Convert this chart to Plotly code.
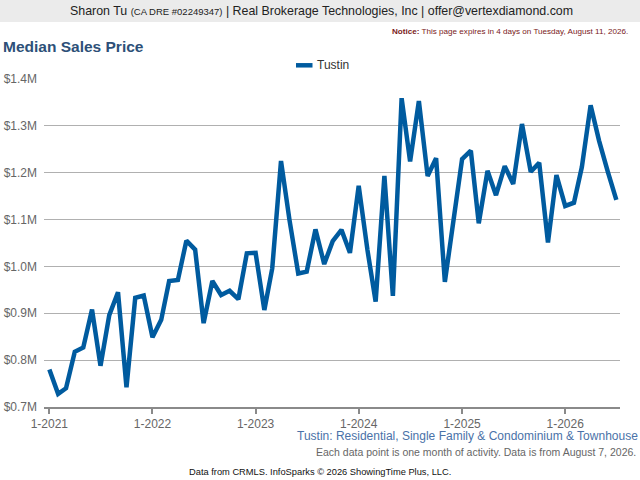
import plotly.graph_objects as go

months = []
for yr in range(2021, 2027):
    for m in range(1, 13):
        if yr == 2026 and m > 7:
            break
        months.append(f"{yr}-{m:02d}-01")

price_m = [
    0.780, 0.728, 0.740, 0.818, 0.827, 0.908, 0.788, 0.896, 0.945, 0.742, 0.933, 0.938,
    0.849, 0.886, 0.969, 0.971, 1.055, 1.036, 0.879, 0.969, 0.939, 0.948, 0.930, 1.028,
    1.029, 0.907, 0.996, 1.225, 1.099, 0.985, 0.989, 1.079, 1.005, 1.054, 1.078, 1.029,
    1.172, 1.035, 0.925, 1.193, 0.937, 1.359, 1.224, 1.353, 1.193, 1.231, 0.967, 1.092,
    1.229, 1.247, 1.092, 1.204, 1.152, 1.214, 1.176, 1.304, 1.202, 1.221, 1.051, 1.195,
    1.129, 1.136, 1.212, 1.344, 1.268, 1.202, 1.142,
]
prices = [v * 1_000_000 for v in price_m]
series_name = "Tustin"

tick_dates = ["2021-01-01", "2022-01-01", "2023-01-01", "2024-01-01", "2025-01-01", "2026-01-01"]
tick_labels = ["1-2021", "1-2022", "1-2023", "1-2024", "1-2025", "1-2026"]
y_ticks = [700000, 800000, 900000, 1000000, 1100000, 1200000, 1300000, 1400000]
y_labels = ["$0.7M", "$0.8M", "$0.9M", "$1.0M", "$1.1M", "$1.2M", "$1.3M", "$1.4M"]

FONT = "Liberation Sans, Arial, sans-serif"
LINE_COLOR = "#005b9f"
L, R, T, B = 44, 20, 79, 73
PW, PH = 640 - L - R, 480 - T - B


def px(x):
    return (x - L) / PW


def py(y):
    return (480 - B - y) / PH


fig = go.Figure()
fig.add_trace(go.Scatter(
    x=months, y=prices, mode="lines", name=series_name,
    line=dict(color=LINE_COLOR, width=4.5), showlegend=False,
))

fig.update_layout(
    width=640, height=480,
    margin=dict(l=L, r=R, t=T, b=B, autoexpand=False),
    paper_bgcolor="white", plot_bgcolor="white",
    font=dict(family=FONT, color="#555555"),
    showlegend=False,
    xaxis=dict(
        type="date",
        range=["2020-12-13", "2026-07-14"],
        tickvals=tick_dates, ticktext=tick_labels,
        showgrid=False, showline=True, linecolor="#8a8a8a", linewidth=2,
        ticks="outside", ticklen=5, tickwidth=2, tickcolor="#8a8a8a",
        tickfont=dict(size=12, color="#666666"), zeroline=False,
    ),
    yaxis=dict(
        range=[700000, 1400000],
        tickvals=y_ticks, ticktext=y_labels,
        showgrid=True, gridcolor="#b0b0b0", gridwidth=1,
        showline=False, zeroline=False, ticks="", ticklabelstandoff=6,
        tickfont=dict(size=12, color="#666666"),
    ),
    shapes=[
        dict(type="rect", xref="paper", yref="paper", x0=px(0), x1=px(640),
             y0=py(22), y1=py(0),
             fillcolor="#ebebeb", line=dict(width=0), layer="below"),
        dict(type="line", xref="paper", yref="paper", x0=px(296), x1=px(312.5),
             y0=py(65.3), y1=py(65.3), line=dict(color=LINE_COLOR, width=4.5)),
    ],
    annotations=[
        dict(text=series_name,
             xref="paper", yref="paper", x=px(315), y=py(65),
             xanchor="left", yanchor="middle", showarrow=False,
             font=dict(size=12, color="#333333")),
        dict(text="Sharon Tu <span style='font-size:9.5px'>(CA DRE #02249347)</span> | Real Brokerage Technologies, Inc | offer@vertexdiamond.com",
             xref="paper", yref="paper", x=px(321), y=py(11),
             xanchor="center", yanchor="middle", showarrow=False,
             font=dict(size=12.4, color="#222222")),
        dict(text="<b>Notice:</b> This page expires in 4 days on Tuesday, August 11, 2026.",
             xref="paper", yref="paper", x=px(630), y=py(31),
             xanchor="right", yanchor="middle", showarrow=False,
             font=dict(size=8.1, color="#7a1a1a")),
        dict(text="<b>Median Sales Price</b>",
             xref="paper", yref="paper", x=px(1), y=py(46),
             xanchor="left", yanchor="middle", showarrow=False,
             font=dict(size=15.5, color="#2d5078")),
        dict(text="Tustin: Residential, Single Family &amp; Condominium &amp; Townhouse",
             xref="paper", yref="paper", x=px(640), y=py(436),
             xanchor="right", yanchor="middle", showarrow=False,
             font=dict(size=12, color="#4a72a8")),
        dict(text="Each data point is one month of activity. Data is from August 7, 2026.",
             xref="paper", yref="paper", x=px(638), y=py(452),
             xanchor="right", yanchor="middle", showarrow=False,
             font=dict(size=10.5, color="#666666")),
        dict(text="Data from CRMLS. InfoSparks © 2026 ShowingTime Plus, LLC.",
             xref="paper", yref="paper", x=px(320), y=py(472),
             xanchor="center", yanchor="middle", showarrow=False,
             font=dict(size=9.3, color="#111111")),
    ],
)

fig.write_html("out.html", config={"displayModeBar": False},
               post_script="document.body.style.margin='0';document.body.style.overflow='hidden';")
